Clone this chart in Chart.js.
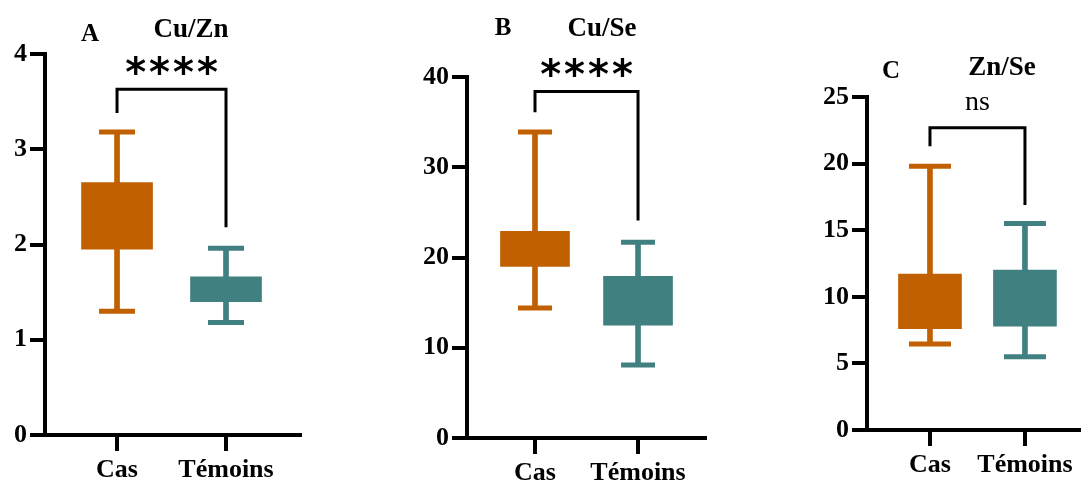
<!DOCTYPE html>
<html>
<head>
<meta charset="utf-8">
<script src="https://cdn.jsdelivr.net/npm/chart.js@4.4.0/dist/chart.umd.min.js"></script>
<style>
  body { margin: 0; background: #fff; width: 1081px; height: 484px; position: relative; overflow: hidden; font-family: "Liberation Serif", serif; }
  canvas { position: absolute; top: 0; }
  .lbl { position: absolute; font-weight: bold; font-size: 27px; line-height: 1; transform: translate(-50%, -50%); white-space: nowrap; }
  .lettre { font-size: 25px; }
</style>
</head>
<body>
<canvas id="panelA" width="302" height="484" style="left:0px"></canvas>
<canvas id="panelB" width="307" height="484" style="left:400px"></canvas>
<canvas id="panelC" width="281" height="484" style="left:800px"></canvas>

<div class="lbl lettre" style="left:90px;top:32px">A</div>
<div class="lbl" style="left:191px;top:28px">Cu/Zn</div>
<div class="lbl lettre" style="left:503px;top:26px">B</div>
<div class="lbl" style="left:602px;top:27px">Cu/Se</div>
<div class="lbl lettre" style="left:891px;top:69px">C</div>
<div class="lbl" style="left:1002px;top:66px">Zn/Se</div>

<script>
// groupes
const categories = ['Cas', 'Témoins'];

// Cu/Zn
const cuZnMin = [1.30, 1.18];
const cuZnQ1 = [1.95, 1.40];
const cuZnQ3 = [2.65, 1.66];
const cuZnMax = [3.18, 1.96];
const cuZnTicks = [0, 1, 2, 3, 4];
const cuZnBracket = [3.38, 3.63, 3.63, 2.18];
const cuZnSignif = '****';

// Cu/Se
const cuSeMin = [14.4, 8.1];
const cuSeQ1 = [19.0, 12.5];
const cuSeQ3 = [22.9, 17.9];
const cuSeMax = [33.9, 21.7];
const cuSeTicks = [0, 10, 20, 30, 40];
const cuSeBracket = [36.1, 38.4, 38.4, 24.1];
const cuSeSignif = '****';

// Zn/Se
const znSeMin = [6.45, 5.5];
const znSeQ1 = [7.6, 7.8];
const znSeQ3 = [11.7, 12.0];
const znSeMax = [19.8, 15.5];
const znSeTicks = [0, 5, 10, 15, 20, 25];
const znSeBracket = [21.3, 22.7, 22.7, 16.9];
const znSeSignif = 'ns';

const orange = '#C06000';
const teal = '#418080';
const serif = '"Liberation Serif", "Times New Roman", serif';

// texte de significativité au-dessus du crochet
const signifPlugin = {
  id: 'signif',
  afterDatasetsDraw(chart, args, opts) {
    const { ctx, scales: { x, y } } = chart;
    const cx = (x.getPixelForValue(1) + x.getPixelForValue(2)) / 2;
    const cy = y.getPixelForValue(opts.top) - 24;
    ctx.save();
    ctx.font = opts.font;
    ctx.fillStyle = '#000';
    ctx.textAlign = 'center';
    ctx.textBaseline = 'alphabetic';
    const sp = opts.spacing || 0;
    if (sp) ctx.letterSpacing = sp + 'px';
    const m = ctx.measureText(opts.text);
    const base = cy + (m.actualBoundingBoxAscent - m.actualBoundingBoxDescent) / 2;
    ctx.fillText(opts.text, cx + sp / 2, base);
    ctx.restore();
  }
};

function boxPanel(id, p) {
  const colors = [orange, teal];
  const xs = categories.map((c, i) => i + 1);
  const br = p.bracket;

  new Chart(document.getElementById(id), {
    type: 'bar',
    data: {
      datasets: [
        {
          data: xs.map((x, i) => ({ x: x, y: [p.q1[i], p.q3[i]] })),
          backgroundColor: colors,
          barThickness: p.boxW,
          grouped: false
        },
        {
          data: xs.map((x, i) => ({ x: x, y: [p.min[i], p.max[i]] })),
          backgroundColor: colors,
          barThickness: 5,
          grouped: false
        },
        {
          type: 'line',
          showLine: false,
          data: xs.map((x, i) => ({ x: x, y: p.max[i] })).concat(xs.map((x, i) => ({ x: x, y: p.min[i] }))),
          pointStyle: 'line',
          pointRadius: p.capR,
          pointHoverRadius: p.capR,
          pointBorderWidth: 5,
          pointHoverBorderWidth: 5,
          pointBorderColor: colors.concat(colors)
        },
        {
          type: 'line',
          data: [{ x: 1, y: br[0] }, { x: 1, y: br[1] }, { x: 2, y: br[2] }, { x: 2, y: br[3] }],
          borderColor: '#000',
          borderWidth: 3,
          pointRadius: 0,
          tension: 0
        }
      ]
    },
    options: {
      responsive: false,
      animation: false,
      events: [],
      layout: { autoPadding: false, padding: { top: p.top, right: p.right, bottom: 0, left: 0 } },
      plugins: {
        legend: { display: false },
        tooltip: { enabled: false },
        signif: { text: p.signif, top: br[1], font: p.signifFont, spacing: p.spacing }
      },
      scales: {
        x: {
          type: 'linear',
          min: p.xMin,
          max: p.xMax,
          offset: false,
          afterFit: s => { s.height = p.xH; },
          afterBuildTicks: s => { s.ticks = xs.map(v => ({ value: v })); },
          border: { color: '#000', width: 4 },
          grid: { offset: false, drawOnChartArea: false, color: '#000', lineWidth: 4, tickLength: 16 },
          ticks: {
            color: '#000',
            padding: 4,
            font: { family: serif, size: 26, weight: 'bold' },
            callback: (v) => categories[Math.round(v) - 1]
          }
        },
        y: {
          min: p.ticks[0],
          max: p.ticks[p.ticks.length - 1],
          afterFit: s => { s.width = p.yW; },
          afterBuildTicks: s => { s.ticks = p.ticks.map(v => ({ value: v })); },
          border: { color: '#000', width: 4 },
          grid: { drawOnChartArea: false, color: '#000', lineWidth: 4, tickLength: 15 },
          ticks: {
            color: '#000',
            padding: 3,
            font: { family: serif, size: 26, weight: 'bold' }
          }
        }
      }
    },
    plugins: [signifPlugin]
  });
}

boxPanel('panelA', {
  min: cuZnMin, q1: cuZnQ1, q3: cuZnQ3, max: cuZnMax, ticks: cuZnTicks,
  bracket: cuZnBracket, signif: cuZnSignif,
  signifFont: 'bold 40px "DejaVu Sans"', spacing: 3,
  boxW: 71, capR: 18, top: 54, right: 2, yW: 45, xH: 49, xMin: 0.339, xMax: 2.679
});

boxPanel('panelB', {
  min: cuSeMin, q1: cuSeQ1, q3: cuSeQ3, max: cuSeMax, ticks: cuSeTicks,
  bracket: cuSeBracket, signif: cuSeSignif,
  signifFont: 'bold 40px "DejaVu Sans"', spacing: 3,
  boxW: 69, capR: 17, top: 77, right: 2, yW: 67, xH: 46, xMin: 0.34, xMax: 2.65
});

boxPanel('panelC', {
  min: znSeMin, q1: znSeQ1, q3: znSeQ3, max: znSeMax, ticks: znSeTicks,
  bracket: znSeBracket, signif: znSeSignif,
  signifFont: '28px "Liberation Serif"', spacing: 0,
  boxW: 63, capR: 21, top: 97, right: 0, yW: 67, xH: 54, xMin: 0.337, xMax: 2.59
});
</script>
</body>
</html>
